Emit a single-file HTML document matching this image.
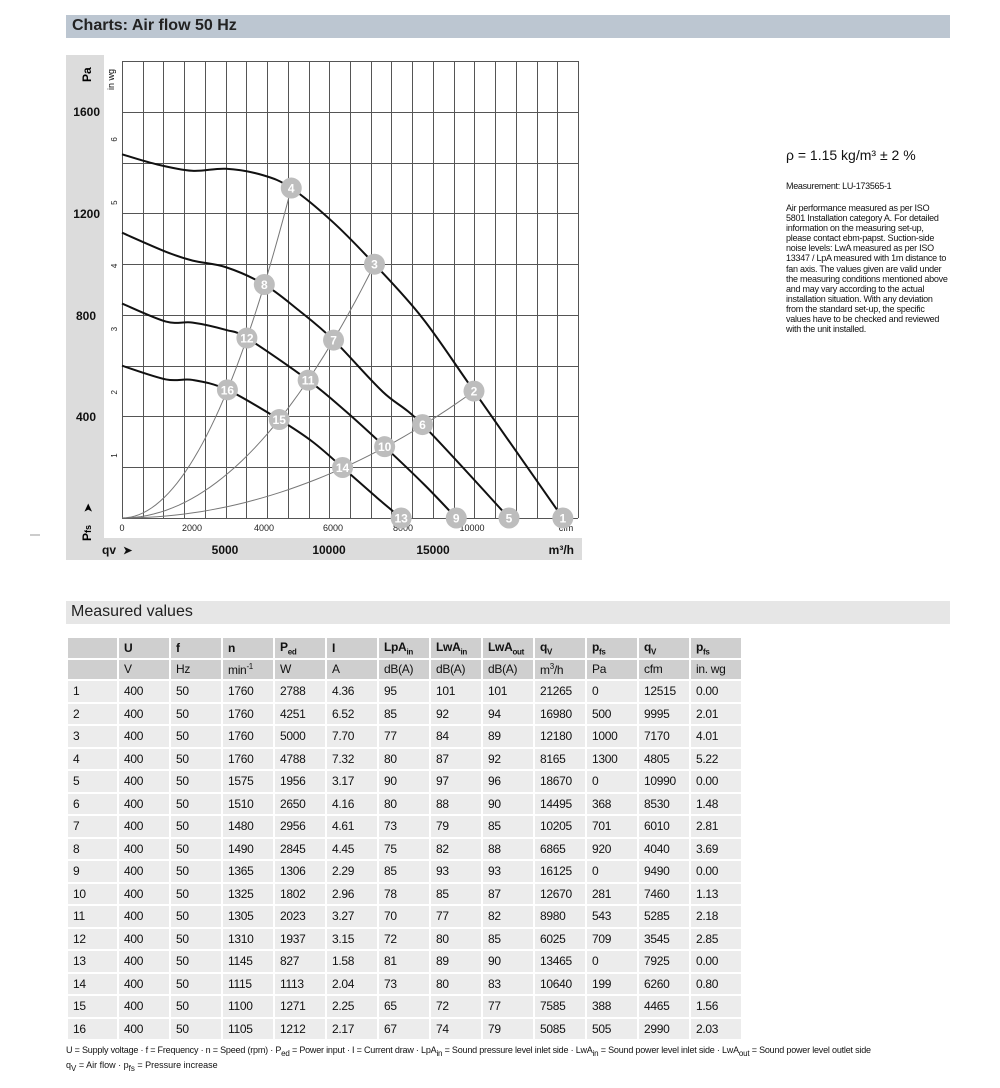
<!DOCTYPE html>
<html><head><meta charset="utf-8"><style>
body{margin:0;width:1000px;height:1088px;background:#fff;font-family:"Liberation Sans Narrow","Liberation Sans",sans-serif;position:relative;overflow:hidden}
.bar{position:absolute;left:66px;width:884px;}
.t{position:absolute;color:#111}
table{position:absolute;left:66px;top:636px;border-collapse:collapse;font-size:12px;color:#111}
td{border:2px solid #fff;padding:0 0 0 5px;height:20.5px;width:45px;background:#ececec;white-space:nowrap;letter-spacing:-0.3px}
tr.h td{background:#cfcfcf;height:19.5px}
tr.h1 td{font-weight:bold}
td:first-child{width:44px}
sub,sup{font-size:8px}
</style></head><body>
<div class="bar" style="top:15px;height:23px;background:#bcc6d1"></div>
<div class="t" style="left:72px;top:17px;font-size:16px;font-weight:bold;font-family:'Liberation Sans',sans-serif;color:#222">Charts: Air flow 50 Hz</div>

<svg style="position:absolute;left:0;top:0" width="1000" height="570" font-family="Liberation Sans, sans-serif">
<rect x="66" y="55" width="38" height="505" fill="#dcdcdc"/>
<rect x="66" y="538" width="516" height="22" fill="#dcdcdc"/>
<g id="grid" stroke="#555" stroke-width="1"></g>
<g font-weight="bold" font-size="12" fill="#111" text-anchor="end">
<text x="100" y="116">1600</text><text x="100" y="218">1200</text><text x="96" y="320">800</text><text x="96" y="421">400</text>
</g>
<text transform="translate(91,82) rotate(-90)" font-weight="bold" font-size="12">Pa</text>
<text transform="translate(91,541) rotate(-90)" font-weight="bold" font-size="12">P<tspan font-size="9">fs</tspan></text>
<text transform="translate(92,513) rotate(-90)" font-size="12">➤</text>
<text transform="translate(114,90) rotate(-90)" font-size="9">in wg</text>
<g font-size="8" fill="#222" id="inwg"></g>
<g font-size="9" fill="#222" text-anchor="middle">
<text x="122" y="531">0</text><text x="192" y="531">2000</text><text x="264" y="531">4000</text><text x="333" y="531">6000</text><text x="403" y="531">8000</text><text x="472" y="531">10000</text><text x="566" y="531">cfm</text>
</g>
<g font-size="12" font-weight="bold" fill="#111">
<text x="102" y="554">qv</text><text x="123" y="554" font-size="11">➤</text>
<text x="225" y="554" text-anchor="middle">5000</text><text x="329" y="554" text-anchor="middle">10000</text><text x="433" y="554" text-anchor="middle">15000</text>
<text x="574" y="554" text-anchor="end">m³/h</text>
</g>
<g id="sys" stroke="#777" stroke-width="1" fill="none"></g>
<g id="curves" stroke="#111" stroke-width="2" fill="none"></g>
<g id="pts"></g>
<line x1="30" y1="535" x2="40" y2="535" stroke="#999"/>
</svg>

<div class="t" style="left:786px;top:147px;font-size:14px;font-family:'Liberation Sans',sans-serif">ρ = 1.15 kg/m³ ± 2 %</div>
<div class="t" style="left:786px;top:181px;font-size:9px;letter-spacing:-0.3px">Measurement: LU-173565-1</div>
<div class="t" style="left:786px;top:203px;font-size:9px;line-height:10.1px;width:163px;letter-spacing:-0.25px">Air performance measured as per ISO 5801 Installation category A. For detailed information on the measuring set-up, please contact ebm-papst. Suction-side noise levels: LwA measured as per ISO 13347 / LpA measured with 1m distance to fan axis. The values given are valid under the measuring conditions mentioned above and may vary according to the actual installation situation. With any deviation from the standard set-up, the specific values have to be checked and reviewed with the unit installed.</div>

<div class="bar" style="top:601px;height:23px;background:#e6e6e6"></div>
<div class="t" style="left:71px;top:603px;font-size:16px;font-family:'Liberation Sans',sans-serif;color:#222">Measured values</div>

<table id="tb">
<tr class="h h1"><td></td><td>U</td><td>f</td><td>n</td><td>P<sub>ed</sub></td><td>I</td><td>LpA<sub>in</sub></td><td>LwA<sub>in</sub></td><td>LwA<sub>out</sub></td><td>q<sub>V</sub></td><td>p<sub>fs</sub></td><td>q<sub>V</sub></td><td>p<sub>fs</sub></td></tr>
<tr class="h"><td></td><td>V</td><td>Hz</td><td>min<sup>-1</sup></td><td>W</td><td>A</td><td>dB(A)</td><td>dB(A)</td><td>dB(A)</td><td>m<sup>3</sup>/h</td><td>Pa</td><td>cfm</td><td>in. wg</td></tr>
</table>

<div class="t" style="left:66px;top:1045px;font-size:9px;letter-spacing:-0.2px">U = Supply voltage · f = Frequency · n = Speed (rpm) · P<sub>ed</sub> = Power input · I = Current draw · LpA<sub>in</sub> = Sound pressure level inlet side · LwA<sub>in</sub> = Sound power level inlet side · LwA<sub>out</sub> = Sound power level outlet side</div>
<div class="t" style="left:66px;top:1060px;font-size:9px">q<sub>V</sub> = Air flow · p<sub>fs</sub> = Pressure increase</div>

<script>
var NS="http://www.w3.org/2000/svg";
function X(q){return 122+q*0.02073}
function Y(p){return 518-p*0.2538}
function el(parent,tag,attrs,txt){var e=document.createElementNS(NS,tag);for(var k in attrs)e.setAttribute(k,attrs[k]);if(txt!=null)e.textContent=txt;document.getElementById(parent).appendChild(e);return e}
for(var i=0;i<=22;i++){var x=Math.round(X(i*1000))+0.5;el("grid","line",{x1:x,y1:61,x2:x,y2:518})}
for(var p=0;p<=1800;p+=200){var y=Math.round(Y(p))+0.5;el("grid","line",{x1:122,y1:y,x2:578,y2:y})}
for(var w=1;w<=6;w++){var yy=Y(w*249.1);el("inwg","text",{transform:"translate(117,"+(yy+3)+") rotate(-90)"},w);}
function cr(pts){var d="M"+X(pts[0][0])+","+Y(pts[0][1]);
for(var i=0;i<pts.length-1;i++){var p0=pts[Math.max(0,i-1)],p1=pts[i],p2=pts[i+1],p3=pts[Math.min(pts.length-1,i+2)];
var a=[X(p0[0]),Y(p0[1])],b=[X(p1[0]),Y(p1[1])],c=[X(p2[0]),Y(p2[1])],e=[X(p3[0]),Y(p3[1])];
var c1=[b[0]+(c[0]-a[0])/6,b[1]+(c[1]-a[1])/6],c2=[c[0]-(e[0]-b[0])/6,c[1]-(e[1]-b[1])/6];
d+=" C"+c1+" "+c2+" "+c;}return d}
var curves=[
[[0,1433],[1600,1395],[3380,1368],[5020,1376],[6790,1351],[8165,1300],[10160,1167],[12180,1000],[14500,787],[16980,500],[21265,0]],
[[0,1124],[2120,1049],[3410,1014],[5020,988],[6865,920],[8500,820],[10205,701],[12570,498],[14495,368],[18670,0]],
[[0,845],[2120,774],[3410,770],[5020,741],[6025,709],[8980,543],[10800,420],[12670,281],[14600,130],[16125,0]],
[[0,600],[2120,546],[3410,544],[5085,505],[7585,388],[9200,300],[10640,199],[12300,80],[13465,0]]];
curves.forEach(function(c){el("curves","path",{d:cr(c)})});
[[8165,1300],[12180,1000],[16980,500]].forEach(function(pt){var k=pt[1]/(pt[0]*pt[0]);var d="M"+X(0)+","+Y(0);for(var q=0;q<=pt[0]+1;q+=pt[0]/40)d+=" L"+X(q)+","+Y(k*q*q);el("sys","path",{d:d})});
var P=[[21265,0],[16980,500],[12180,1000],[8165,1300],[18670,0],[14495,368],[10205,701],[6865,920],[16125,0],[12670,281],[8980,543],[6025,709],[13465,0],[10640,199],[7585,388],[5085,505]];
P.forEach(function(p,i){var x=X(p[0]),y=Y(p[1]);el("pts","circle",{cx:x,cy:y,r:10.5,fill:"#bdbdbd"});el("pts","text",{x:x,y:y+4.5,"text-anchor":"middle","font-size":"12","font-weight":"bold",fill:"#fff"},i+1)});
var rows=[[400,50,1760,2788,"4.36",95,101,101,21265,0,12515,"0.00"],[400,50,1760,4251,"6.52",85,92,94,16980,500,9995,"2.01"],[400,50,1760,5000,"7.70",77,84,89,12180,1000,7170,"4.01"],[400,50,1760,4788,"7.32",80,87,92,8165,1300,4805,"5.22"],[400,50,1575,1956,"3.17",90,97,96,18670,0,10990,"0.00"],[400,50,1510,2650,"4.16",80,88,90,14495,368,8530,"1.48"],[400,50,1480,2956,"4.61",73,79,85,10205,701,6010,"2.81"],[400,50,1490,2845,"4.45",75,82,88,6865,920,4040,"3.69"],[400,50,1365,1306,"2.29",85,93,93,16125,0,9490,"0.00"],[400,50,1325,1802,"2.96",78,85,87,12670,281,7460,"1.13"],[400,50,1305,2023,"3.27",70,77,82,8980,543,5285,"2.18"],[400,50,1310,1937,"3.15",72,80,85,6025,709,3545,"2.85"],[400,50,1145,827,"1.58",81,89,90,13465,0,7925,"0.00"],[400,50,1115,1113,"2.04",73,80,83,10640,199,6260,"0.80"],[400,50,1100,1271,"2.25",65,72,77,7585,388,4465,"1.56"],[400,50,1105,1212,"2.17",67,74,79,5085,505,2990,"2.03"]];
var tb=document.getElementById("tb");
rows.forEach(function(r,i){var tr=document.createElement("tr");var h="<td>"+(i+1)+"</td>";r.forEach(function(v){h+="<td>"+v+"</td>"});tr.innerHTML=h;tb.appendChild(tr)});
</script>
</body></html>
